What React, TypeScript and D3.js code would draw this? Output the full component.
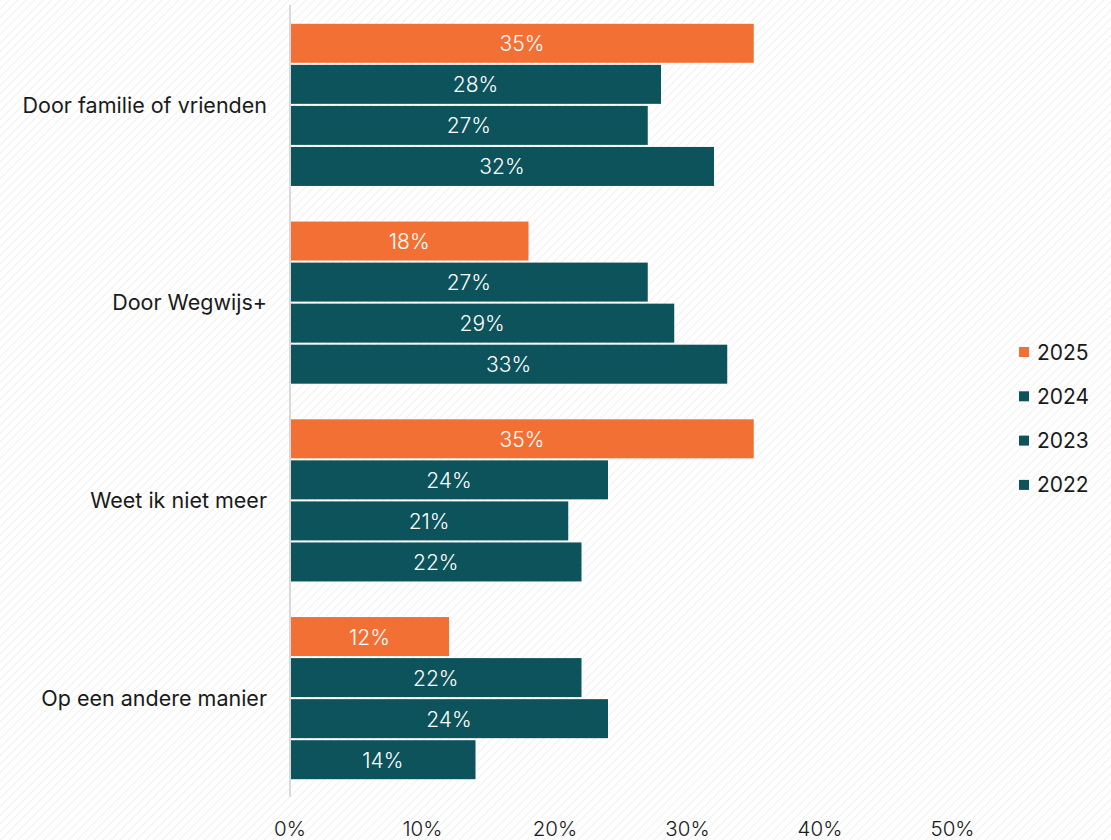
import React from "react";
import * as d3 from "d3";

const categories = [
  "Door familie of vrienden",
  "Door Wegwijs+",
  "Weet ik niet meer",
  "Op een andere manier",
];
const years = ["2025", "2024", "2023", "2022"];
const values2025 = [35, 18, 35, 12];
const values2024 = [28, 27, 24, 22];
const values2023 = [27, 29, 21, 24];
const values2022 = [32, 33, 22, 14];
const xTicks = [0, 10, 20, 30, 40, 50];

const seriesValues = [values2025, values2024, values2023, values2022];
const colors = ["#F37035", "#0D535B", "#0D535B", "#0D535B"];

const W = 1111;
const H = 840;
const FONT = "Inter, 'Open Sans', sans-serif";

export default function App() {
  const x = d3.scaleLinear().domain([0, 50]).range([290, 952.5]);
  const y = d3
    .scaleBand<string>()
    .domain(categories)
    .range([6, 797])
    .paddingInner(0.18)
    .paddingOuter(0.09);
  const yInner = d3
    .scaleBand<string>()
    .domain(years)
    .range([0, y.bandwidth()])
    .paddingInner(0.05);

  return (
    <div style={{ position: "absolute", left: 0, top: 0, width: W, height: H }}>
      <svg width={W} height={H} style={{ display: "block" }}>
        <defs>
          <pattern
            id="hatch"
            width={6}
            height={6}
            patternUnits="userSpaceOnUse"
            patternTransform="rotate(45)"
          >
            <rect width={6} height={6} fill="#ffffff" />
            <line x1={0} y1={0} x2={0} y2={6} stroke="#f0f0f0" strokeWidth={2} />
          </pattern>
        </defs>
        <rect width={W} height={H} fill="url(#hatch)" />

        {categories.map((c, ci) => (
          <g key={c} transform={`translate(0,${y(c)})`}>
            {years.map((yr, si) => {
              const v = seriesValues[si][ci];
              const by = yInner(yr)!;
              const bh = yInner.bandwidth();
              return (
                <g key={yr}>
                  <rect
                    x={x(0)}
                    y={by}
                    width={x(v) - x(0)}
                    height={bh}
                    fill={colors[si]}
                  />
                  <text
                    x={(x(0) + x(v)) / 2}
                    y={by + bh / 2}
                    dy="0.38em"
                    textAnchor="middle"
                    fill="#ffffff"
                    fontFamily={FONT}
                    fontWeight={300}
                    fontSize={21}
                  >
                    {v}%
                  </text>
                </g>
              );
            })}
            <text
              x={267}
              y={y.bandwidth() / 2}
              dy="0.36em"
              textAnchor="end"
              fill="#1a1a1a"
              fontFamily={FONT}
              fontSize={21.5}
            >
              {c}
            </text>
          </g>
        ))}

        <line x1={x(0)} x2={x(0)} y1={5} y2={797} stroke="#d9d9d9" strokeWidth={2} />

        {xTicks.map((t) => (
          <text
            key={t}
            x={x(t)}
            y={829}
            dy="0.36em"
            textAnchor="middle"
            fill="#1a1a1a"
            fontFamily={FONT}
            fontWeight={300}
            fontSize={20.5}
          >
            {t}%
          </text>
        ))}

        {years.map((yr, i) => (
          <g key={yr} transform={`translate(1019,${352 + i * 44.3})`}>
            <rect x={0} y={-5} width={10} height={10} fill={colors[i]} />
            <text
              x={18}
              y={0}
              dy="0.36em"
              fill="#1a1a1a"
              fontFamily={FONT}
              fontSize={21}
            >
              {yr}
            </text>
          </g>
        ))}
      </svg>
    </div>
  );
}
